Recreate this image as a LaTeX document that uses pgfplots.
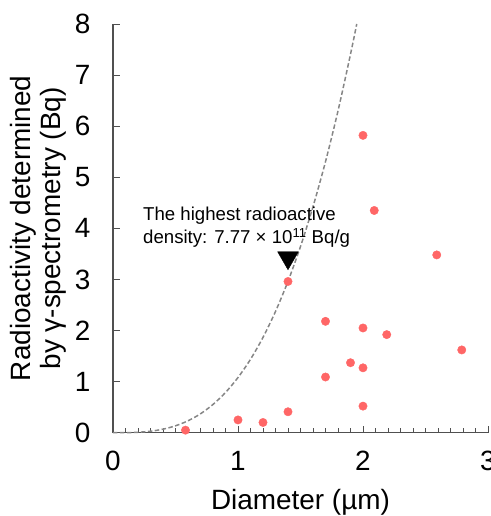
\documentclass[border=0pt]{standalone}
\usepackage{pgfplots}
\pgfplotsset{compat=1.18}
\usepackage{fontspec}
\setmainfont{Liberation Sans}
\definecolor{dotc}{RGB}{255,102,102}
\definecolor{axc}{RGB}{80,80,80}
\begin{document}
\begin{tikzpicture}
\useasboundingbox (-113bp,-83.3bp) rectangle (378bp,432.7bp);
\clip (-113bp,-83.3bp) rectangle (378bp,432.7bp);
\begin{axis}[
  at={(0,0)}, anchor=south west,
  scale only axis, width=375bp, height=408.7bp,
  xmin=0, xmax=3, ymin=0, ymax=8,
  axis lines*=left,
  axis line style={draw=axc, line width=1.3pt},
  xtick={0,1,2,3}, ytick={0,1,...,8},
  minor x tick num=9,
  tick align=inside,
  major tick length=7bp, minor tick length=5bp,
  every tick/.style={axc, line width=1pt},
  /pgf/number format/assume math mode=true,
  ticklabel style={font=\fontsize{28}{30}\selectfont},
  xticklabel style={yshift=-15bp},
  yticklabel style={xshift=-19bp},
  xlabel={Diameter (µm)},
  xlabel style={font=\fontsize{28}{30}\selectfont, at={(axis description cs:0.5,-0.189)}, anchor=base},
  ylabel={Radioactivity determined\\by γ-spectrometry (Bq)},
  ylabel style={font=\fontsize{28}{30}\selectfont, align=center, at={(axis description cs:-0.125,0.5)}, anchor=south, inner sep=0pt},
  clip=false,
]
\addplot[color=gray!95, line width=1.5pt, dash pattern=on 4.5pt off 2.5pt, smooth] coordinates {
(0,0) (0.1,0.0011) (0.2,0.0086) (0.3,0.029) (0.4,0.069) (0.5,0.135) (0.6,0.233)
(0.7,0.370) (0.8,0.553) (0.9,0.787) (1.0,1.08) (1.1,1.437) (1.2,1.866) (1.3,2.373)
(1.4,2.964) (1.5,3.645) (1.6,4.424) (1.7,5.306) (1.8,6.299) (1.9,7.408) (1.95,8.0)
};
\addplot[only marks, color=dotc, mark=*, mark size=4.2bp, mark options={draw=dotc, fill=dotc}] coordinates {
(1.40,2.96) (1.70,2.18) (2.00,2.05) (2.19,1.92) (2.79,1.62) (1.90,1.37) (2.00,1.27)
(1.70,1.09) (2.00,0.52) (1.40,0.41) (1.00,0.25) (1.20,0.20) (0.58,0.05)
(2.00,5.82) (2.09,4.35) (2.59,3.48)
};
\addplot[only marks, color=black, mark=triangle*, mark size=12bp, mark options={rotate=180, draw=black, fill=black}] coordinates {(1.40,3.425)};
\node[anchor=north west, inner sep=0pt, align=left, font=\fontsize{18.7}{24}\selectfont] at (axis cs:0.24,4.43) {The highest radioactive\\density: 7.77 × 10\textsuperscript{11} Bq/g};
\end{axis}
\end{tikzpicture}
\end{document}
